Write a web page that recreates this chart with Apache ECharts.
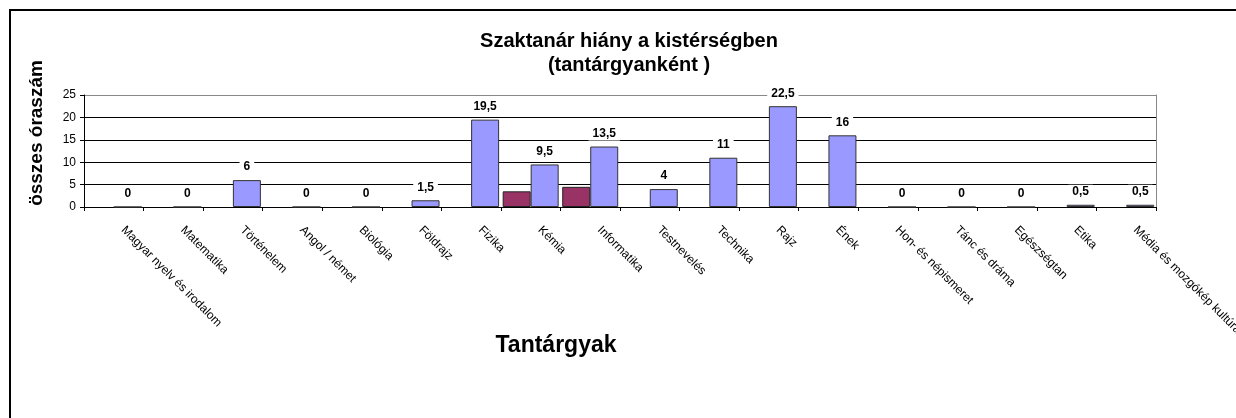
<!DOCTYPE html>
<html>
<head>
<meta charset="utf-8">
<script src="https://cdn.jsdelivr.net/npm/echarts@6/dist/echarts.min.js"></script>
<style>html,body{margin:0;padding:0;background:#fff}#c{width:1236px;height:418px}</style>
</head>
<body>
<div id="c"></div>
<script>
const categories = ["Magyar nyelv és irodalom","Matematika","Történelem","Angol / német","Biológia","Földrajz","Fizika","Kémia","Informatika","Testnevelés","Technika","Rajz","Ének","Hon- és népismeret","Tánc és dráma","Egészségtan","Etika","Média és mozgókép kultúra"];
const hianyValues = [0,0,6,0,0,1.5,19.5,9.5,13.5,4,11,22.5,16,0,0,0,0.5,0.5];
const masikValues = [null,null,null,null,null,null,null,3.5,4.5,null,null,null,null,null,null,null,null,null];
const yTicks = [0,5,10,15,20,25];

const FONT = 'Liberation Sans, Arial, sans-serif';
const chart = echarts.init(document.getElementById('c'), null, {renderer:'canvas'});
chart.setOption({
  animation:false,
  backgroundColor:'#fff',
  textStyle:{fontFamily:FONT},
  title:{
    text:'Szaktanár hiány a kistérségben\n(tantárgyanként )',
    left:624, top:24, textAlign:'center',
    textStyle:{fontFamily:FONT,fontSize:20,fontWeight:'bold',color:'#000',lineHeight:24}
  },
  graphic:[
    {type:'rect',shape:{x:10,y:10,width:1400,height:600},style:{fill:'none',stroke:'#000',lineWidth:2},silent:true,z:-1},
    {type:'text',x:37,y:133,rotation:Math.PI/2,style:{text:'összes óraszám',font:'bold 19px '+FONT,fill:'#000',textAlign:'center',textVerticalAlign:'middle'}},
    {type:'text',x:556,y:346,style:{text:'Tantárgyak',font:'bold 23px '+FONT,fill:'#000',textAlign:'center',textVerticalAlign:'middle'}}
  ],
  grid:{left:84,right:80,top:95,bottom:211,containLabel:false,outerBoundsMode:'none'},
  xAxis:{
    type:'category',data:categories,
    axisLine:{lineStyle:{color:'#000',width:1}},
    axisTick:{show:true,length:4,lineStyle:{color:'#000'}},
    axisLabel:{rotate:-45,fontSize:12,color:'#000',margin:12,padding:[0,0,0,13],interval:0,fontFamily:FONT}
  },
  yAxis:[{
    type:'value',min:yTicks[0],max:yTicks[yTicks.length-1],interval:5,
    axisLine:{show:true,lineStyle:{color:'#000'}},
    axisTick:{show:true,length:4,lineStyle:{color:'#000'}},
    axisLabel:{fontSize:12,color:'#000',margin:8,fontFamily:FONT},
    splitLine:{show:true,lineStyle:{color:['#000','#000','#000','#000','#000','#888'],width:1}}
  },{
    type:'value',position:'right',min:yTicks[0],max:yTicks[yTicks.length-1],interval:5,
    axisLine:{show:true,lineStyle:{color:'#888'}},
    axisTick:{show:false},axisLabel:{show:false},splitLine:{show:false}
  }],
  series:[{
    type:'bar',data:masikValues,barGap:'0%',barCategoryGap:'6%',
    itemStyle:{color:'#993366',borderColor:'#222',borderWidth:1}
  },{
    type:'bar',data:hianyValues,barGap:'0%',barCategoryGap:'6%',
    itemStyle:{color:'#9999FF',borderColor:'#333',borderWidth:1},
    label:{show:true,position:'top',distance:6,fontSize:12,fontWeight:'bold',color:'#000',fontFamily:FONT,
      backgroundColor:'#fff',padding:[1,4],
      formatter:p=>String(p.value).replace('.',',')}
  }]
});
</script>
</body>
</html>
